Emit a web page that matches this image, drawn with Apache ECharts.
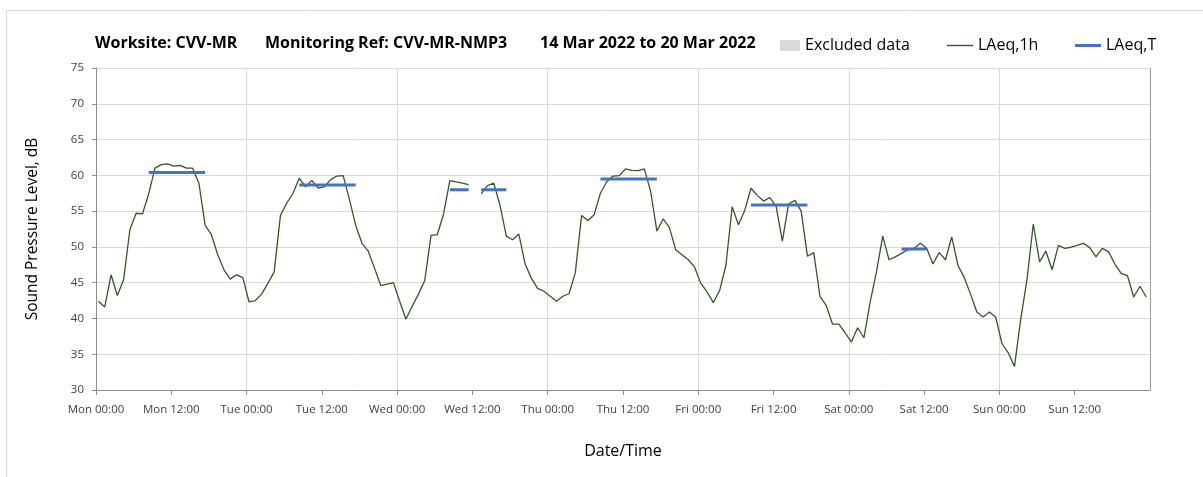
<!DOCTYPE html>
<html>
<head>
<meta charset="utf-8">
<script src="https://cdn.jsdelivr.net/npm/echarts@6/dist/echarts.min.js"></script>
<style>
  html, body { margin: 0; padding: 0; background: #fff; }
  #chart { width: 1203px; height: 477px; }
</style>
</head>
<body>
<div id="chart"></div>
<script>
// hourly LAeq,1h readings, Mon 00:00 to Sun 23:00 (null = excluded hour)
var laeq1h = [
  42.4, 41.6, 46.1, 43.2, 45.4, 52.4, 54.7, 54.6, 57.4, 61.0, 61.5, 61.6,
  61.3, 61.4, 61.0, 61.0, 58.9, 53.0, 51.7, 48.9, 46.8, 45.5, 46.1, 45.7,
  42.3, 42.5, 43.4, 44.9, 46.5, 54.4, 56.1, 57.5, 59.6, 58.4, 59.3, 58.2,
  58.4, 59.4, 59.9, 59.95, 56.6, 53.0, 50.5, 49.4, 47.0, 44.6, 44.8, 45.0,
  42.4, 39.9, 41.7, 43.4, 45.3, 51.6, 51.7, 54.6, 59.25, 59.1, 58.9, 58.7,
  null, 57.4, 58.55, 58.9, 55.8, 51.5, 51.0, 51.8, 47.6, 45.6, 44.2, 43.8,
  43.1, 42.4, 43.1, 43.45, 46.4, 54.4, 53.7, 54.5, 57.5, 59.1, 59.9, 59.95,
  60.9, 60.7, 60.65, 60.9, 57.8, 52.2, 53.9, 52.7, 49.6, 48.9, 48.2, 47.2,
  44.9, 43.7, 42.2, 43.9, 47.4, 55.6, 53.1, 55.1, 58.2, 57.2, 56.4, 56.9,
  55.7, 50.8, 56.0, 56.5, 55.0, 48.7, 49.2, 43.1, 41.8, 39.2, 39.2, 38.0,
  36.7, 38.7, 37.3, 42.3, 46.5, 51.5, 48.2, 48.6, 49.1, 49.6, 49.8, 50.5,
  49.8, 47.6, 49.2, 48.2, 51.4, 47.4, 45.7, 43.4, 40.9, 40.2, 40.9, 40.2,
  36.5, 35.2, 33.3, 39.9, 45.5, 53.2, 47.9, 49.4, 46.8, 50.2, 49.8, 49.95,
  50.2, 50.5, 49.9, 48.6, 49.8, 49.3, 47.6, 46.3, 46.0, 43.0, 44.5, 43.0
];

// LAeq,T periods (first and last hour index of each period)
var periodStart = [8, 32, 56, 61, 80, 104, 128];
var periodEnd = [17, 41, 59, 65, 89, 113, 132];
var periodLevel = [60.4, 58.65, 58.0, 58.0, 59.5, 55.85, 49.7];

var tickLabels = ['Mon 00:00', 'Mon 12:00', 'Tue 00:00', 'Tue 12:00', 'Wed 00:00', 'Wed 12:00',
  'Thu 00:00', 'Thu 12:00', 'Fri 00:00', 'Fri 12:00', 'Sat 00:00', 'Sat 12:00',
  'Sun 00:00', 'Sun 12:00', ''];

var font = '"Open Sans", Lato, sans-serif';
var hourPos = 0.4; // readings sit just after the hour mark

var hourlyData = laeq1h.map(function (v, i) { return [i + hourPos, v]; });

var periodData = [];
for (var p = 0; p < periodStart.length; p++) {
  for (var h = periodStart[p]; h <= periodEnd[p]; h++) {
    periodData.push([h + hourPos, periodLevel[p]]);
  }
  periodData.push([periodEnd[p] + hourPos + 0.5, null]);
}

var legendText = { fontSize: 16, color: '#000', fontFamily: font };

var chart = echarts.init(document.getElementById('chart'));
chart.setOption({
  animation: false,
  textStyle: { fontFamily: font },
  grid: { left: 96, right: 53, top: 68, bottom: 87 },
  graphic: [
    {
      type: 'rect', z: -10, silent: true,
      shape: { x: 6.5, y: 10.5, width: 1400, height: 600 },
      style: { fill: 'none', stroke: '#d9d9d9', lineWidth: 1 }
    },
    { type: 'text', left: 95, top: 35, style: { text: 'Worksite: CVV-MR', font: 'bold 16px ' + font, fill: '#000' } },
    { type: 'text', left: 265, top: 35, style: { text: 'Monitoring Ref: CVV-MR-NMP3', font: 'bold 16px ' + font, fill: '#000' } },
    { type: 'text', left: 540, top: 35, style: { text: '14 Mar 2022 to 20 Mar 2022', font: 'bold 16px ' + font, fill: '#000' } }
  ],
  legend: [
    {
      left: 780, top: 37.5, padding: 0, itemWidth: 20, itemHeight: 11, itemGap: 0, icon: 'rect',
      data: ['Excluded data'], textStyle: legendText
    },
    {
      left: 947, top: 37.5, padding: 0, itemWidth: 26, itemHeight: 1.4, icon: 'rect',
      itemStyle: { borderWidth: 0 },
      data: ['LAeq,1h'], textStyle: legendText
    },
    {
      left: 1075, top: 37.5, padding: 0, itemWidth: 26, itemHeight: 3, icon: 'rect',
      itemStyle: { borderWidth: 0 },
      data: ['LAeq,T'], textStyle: legendText
    }
  ],
  xAxis: [
    {
      type: 'value', min: 0, max: 168, interval: 12,
      name: 'Date/Time', nameLocation: 'middle', nameGap: 53,
      nameTextStyle: { fontSize: 16, color: '#000', fontFamily: font },
      axisLine: { show: true, onZero: false, lineStyle: { color: '#8c8c8c' } },
      axisTick: { show: true, length: 5, lineStyle: { color: '#8c8c8c' } },
      axisLabel: {
        fontSize: 11.5, color: '#404040', margin: 14, fontFamily: font,
        showMaxLabel: false,
        formatter: function (v) { return tickLabels[Math.round(v / 12)]; }
      },
      splitLine: { show: false }
    },
    {
      type: 'value', min: 0, max: 168, interval: 24, position: 'bottom',
      axisLine: { show: false }, axisTick: { show: false }, axisLabel: { show: false },
      splitLine: {
        show: true,
        lineStyle: { color: ['#d9d9d9', '#d9d9d9', '#d9d9d9', '#d9d9d9', '#d9d9d9', '#d9d9d9', '#d9d9d9', '#9a9a9a'] }
      }
    }
  ],
  yAxis: {
    type: 'value', min: 30, max: 75, interval: 5,
    name: 'Sound Pressure Level, dB', nameLocation: 'middle', nameGap: 55, nameRotate: 90,
    nameTextStyle: { fontSize: 15.5, color: '#000', fontFamily: font },
    axisLine: { show: true, lineStyle: { color: '#8c8c8c' } },
    axisTick: { show: true, length: 4, lineStyle: { color: '#8c8c8c' } },
    axisLabel: { fontSize: 11.5, color: '#404040', margin: 12, fontFamily: font },
    splitLine: { show: true, lineStyle: { color: '#d9d9d9', width: 1 } }
  },
  series: [
    {
      name: 'Excluded data', type: 'bar', data: [],
      itemStyle: { color: '#d9d9d9' }
    },
    {
      name: 'LAeq,1h', type: 'line', data: hourlyData,
      symbol: 'none', connectNulls: false,
      lineStyle: { color: '#375623', width: 1.3 },
      itemStyle: { color: '#375623' }
    },
    {
      name: 'LAeq,T', type: 'line', data: periodData,
      symbol: 'none', connectNulls: false, z: 3,
      lineStyle: { color: '#4472c4', width: 3 },
      itemStyle: { color: '#4472c4' }
    }
  ]
});
</script>
</body>
</html>
